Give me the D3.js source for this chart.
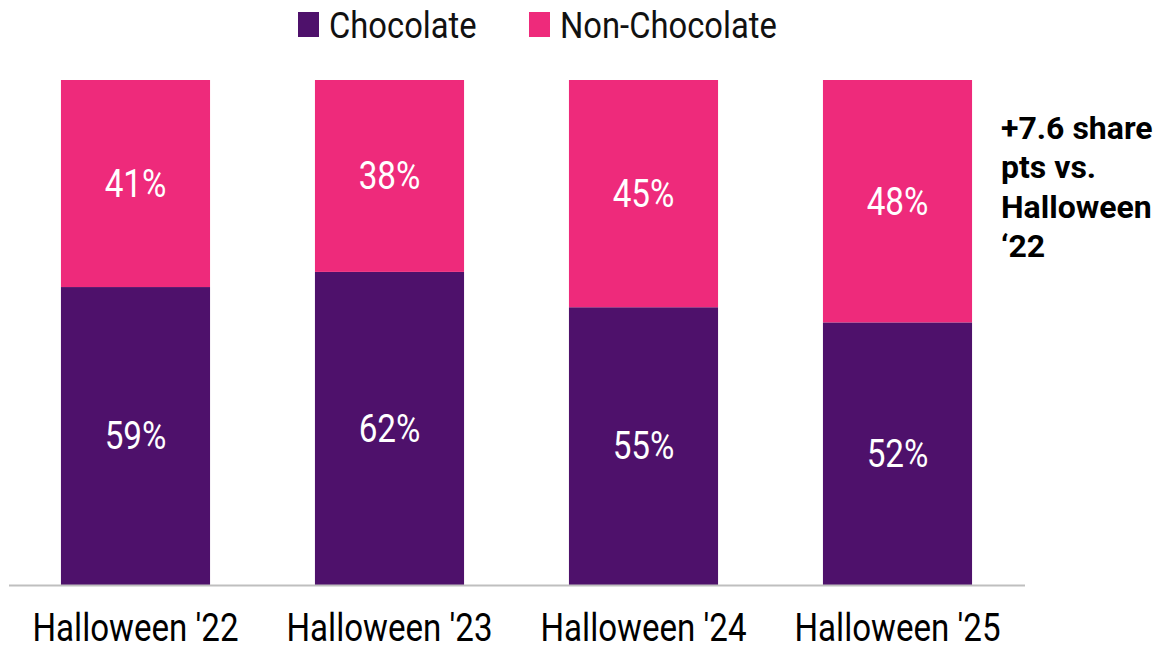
<!DOCTYPE html>
<html>
<head>
<meta charset="utf-8">
<script src="https://cdn.jsdelivr.net/npm/d3@7"></script>
<style>
  html, body { margin: 0; padding: 0; background: #fff; }
  svg text { font-family: Roboto, "Noto Sans", sans-serif; }
</style>
</head>
<body>
<svg id="chart" width="1164" height="650"></svg>
<script>
// Share of Halloween candy sales, chocolate vs. non-chocolate
const categories = ["Halloween '22", "Halloween '23", "Halloween '24", "Halloween '25"];
const chocolate = [59, 62, 55, 52];
const nonChocolate = [41, 38, 45, 48];
const seriesNames = ["Chocolate", "Non-Chocolate"];
const seriesColors = ["#4E116B", "#EE2A7B"];
const noteLines = ["+7.6 share", "pts vs.", "Halloween", "\u201822"];

const svg = d3.select("#chart");
const plot = { left: 8.5, right: 1024.5, top: 80, bottom: 585 };

const rows = categories.map((c, i) => ({ cat: c, Chocolate: chocolate[i], "Non-Chocolate": nonChocolate[i] }));
const stack = d3.stack().keys(seriesNames)(rows);

const x = d3.scaleBand().domain(categories).range([plot.left, plot.right])
  .paddingInner(0.413).paddingOuter(0.2065);
const y = d3.scaleLinear().domain([0, 100]).range([plot.bottom, plot.top]);
const color = d3.scaleOrdinal().domain(seriesNames).range(seriesColors);

// place a text at (ax, ay) with a horizontal squeeze for a condensed look
function condensed(sel, ax, ay, sx) {
  sel.attr("transform", `translate(${ax},${ay}) scale(${sx},1)`);
}

// bars
const layer = svg.append("g").selectAll("g").data(stack).join("g")
  .attr("fill", d => color(d.key));
layer.selectAll("rect").data(d => d).join("rect")
  .attr("x", d => x(d.data.cat))
  .attr("width", x.bandwidth())
  .attr("y", d => y(d[1]))
  .attr("height", d => y(d[0]) - y(d[1]));

// value labels
layer.selectAll("text").data(d => d).join("text")
  .attr("fill", "#fff")
  .attr("font-size", 38)
  .attr("text-anchor", "middle")
  .attr("dy", "0.35em")
  .text(d => (d[1] - d[0]) + "%")
  .each(function(d) {
    condensed(d3.select(this), x(d.data.cat) + x.bandwidth() / 2, (y(d[0]) + y(d[1])) / 2, 0.875);
  });

// baseline axis
const axis = svg.append("g").attr("transform", `translate(0,${plot.bottom})`)
  .call(d3.axisBottom(x).tickSize(0).tickPadding(0));
axis.select(".domain").attr("stroke", "#bfbfbf").attr("stroke-width", 2);
axis.selectAll(".tick text")
  .attr("font-size", 38.5)
  .attr("fill", "#000")
  .attr("y", 0).attr("dy", 0)
  .each(function() {
    condensed(d3.select(this), 0, 56, 0.86);
  });

// legend
const legendX = [298, 529];
const legend = svg.append("g").selectAll("g").data(seriesNames).join("g")
  .attr("transform", (d, i) => `translate(${legendX[i]},0)`);
legend.append("rect").attr("x", 0).attr("y", 12).attr("width", 21).attr("height", 25)
  .attr("fill", d => color(d));
legend.append("text").attr("font-size", 37).attr("fill", "#111")
  .text(d => d)
  .each(function() { condensed(d3.select(this), 31, 37.5, 0.885); });

// annotation
const note = svg.append("g");
note.selectAll("text").data(noteLines).join("text")
  .attr("font-size", 32).attr("font-weight", "bold").attr("fill", "#000")
  .text(d => d)
  .each(function(d, i) { condensed(d3.select(this), 1001, 138.5 + i * 39.5, 1); });
</script>
</body>
</html>
